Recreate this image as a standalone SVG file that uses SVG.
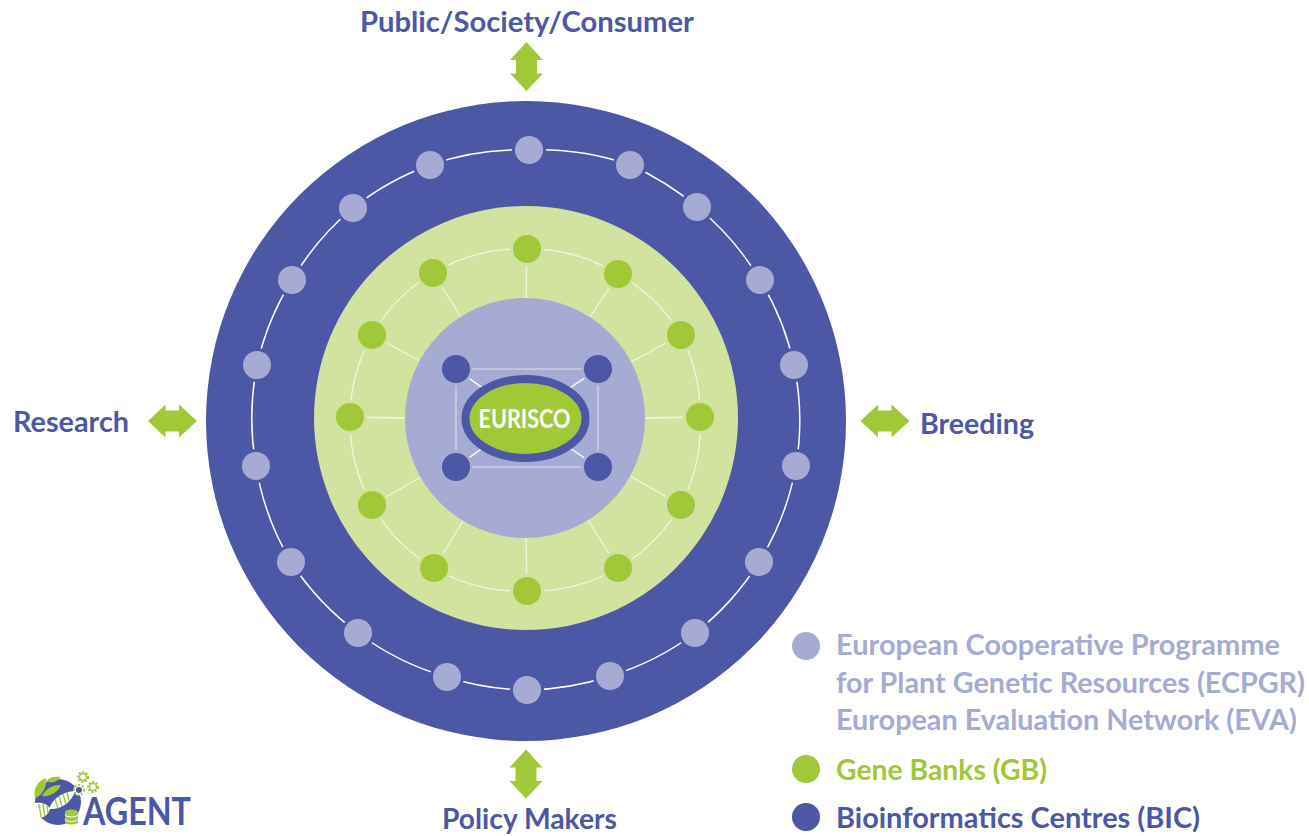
<svg xmlns="http://www.w3.org/2000/svg" width="1309" height="836" viewBox="0 0 1309 836">
<style>
text{font-family:"Lato","Liberation Sans",sans-serif;font-weight:700}
.t{font-size:29px;fill:#4c57a5}
.l{font-size:28px;fill:#a5abd2}
.g{fill:#a1c837}
.w{fill:none;stroke:#fff;stroke-width:1.500}
.s{fill:none;stroke:#f1f6e0;stroke-width:1.300}
.p{fill:none;stroke:#ccd0e6;stroke-width:1.500}
.o{fill:#a5abd2;stroke:#4c57a5;stroke-width:6;paint-order:stroke}
.n{fill:#a1c837;stroke:#d2e39f;stroke-width:6;paint-order:stroke}
.b{fill:#4c57a5;stroke:#a5abd2;stroke-width:5;paint-order:stroke}
.r{fill:none;stroke:#a1c837;stroke-width:1.500}
.c{fill:none;stroke:#a1c837;stroke-width:2;stroke-dasharray:2 1.700}
</style>
<defs>
<polygon id="arrow" points="0,-24.500 16.500,-6.500 10.500,-6.500 10.500,7 16.500,7 0,24.500 -16.500,7 -10.500,7 -10.500,-6.500 -16.500,-6.500"/>
</defs>
<g id="rings">
<circle cx="526" cy="421" r="320" fill="#4c57a5"/>
<circle cx="526" cy="418" r="212" fill="#d2e39f"/>
</g>
<g id="connectors">
<path class="w" d="M529 150A273 273 0 0 1 630 165A273 273 0 0 1 697 207A273 273 0 0 1 760 280A273 273 0 0 1 794 365A273 273 0 0 1 796 466A273 273 0 0 1 759 562A273 273 0 0 1 695 633A273 273 0 0 1 610 676A273 273 0 0 1 527 690A273 273 0 0 1 447 677A273 273 0 0 1 358 633A273 273 0 0 1 291 562A273 273 0 0 1 256 466A273 273 0 0 1 257 365A273 273 0 0 1 292 280A273 273 0 0 1 353 208A273 273 0 0 1 430 165A273 273 0 0 1 529 150Z"/>
<path class="s" d="M527 249A171 171 0 0 1 618 274A171 171 0 0 1 681 335A171 171 0 0 1 700 417A171 171 0 0 1 681 505A171 171 0 0 1 618 568A171 171 0 0 1 527 591A171 171 0 0 1 434 568A171 171 0 0 1 372 505A171 171 0 0 1 350 417A171 171 0 0 1 372 335A171 171 0 0 1 433 273A171 171 0 0 1 527 249Z"/>
<path class="s" d="M527 249L526 298M618 274L590 317M681 335L631 362M700 417L645 418M681 505L630 476M618 568L588 520M527 591L526 538M434 568L463 521M372 505L421 477M350 417L405 418M372 335L420 361M433 273L461 317"/>
</g>
<g id="core"><circle cx="525" cy="418" r="120" fill="#a5abd2"/></g>
<g id="core-connectors">
<path class="p" d="M456 369H598V467H456Z"/>
<path class="w" d="M456 369L525 418M598 369L525 418M456 467L525 418M598 467L525 418"/>
</g>
<g id="ecpgr-nodes">
<circle class="o" cx="529" cy="150" r="14"/><circle class="o" cx="630" cy="165" r="14"/><circle class="o" cx="697" cy="207" r="14"/><circle class="o" cx="760" cy="280" r="14"/><circle class="o" cx="794" cy="365" r="14"/><circle class="o" cx="796" cy="466" r="14"/><circle class="o" cx="759" cy="562" r="14"/><circle class="o" cx="695" cy="633" r="14"/><circle class="o" cx="610" cy="676" r="14"/><circle class="o" cx="527" cy="690" r="14"/><circle class="o" cx="447" cy="677" r="14"/><circle class="o" cx="358" cy="633" r="14"/><circle class="o" cx="291" cy="562" r="14"/><circle class="o" cx="256" cy="466" r="14"/><circle class="o" cx="257" cy="365" r="14"/><circle class="o" cx="292" cy="280" r="14"/><circle class="o" cx="353" cy="208" r="14"/><circle class="o" cx="430" cy="165" r="14"/>
</g>
<g id="gene-bank-nodes">
<circle class="n" cx="527" cy="249" r="14"/><circle class="n" cx="618" cy="274" r="14"/><circle class="n" cx="681" cy="335" r="14"/><circle class="n" cx="700" cy="417" r="14"/><circle class="n" cx="681" cy="505" r="14"/><circle class="n" cx="618" cy="568" r="14"/><circle class="n" cx="527" cy="591" r="14"/><circle class="n" cx="434" cy="568" r="14"/><circle class="n" cx="372" cy="505" r="14"/><circle class="n" cx="350" cy="417" r="14"/><circle class="n" cx="372" cy="335" r="14"/><circle class="n" cx="433" cy="273" r="14"/>
</g>
<g id="bic-nodes">
<circle class="b" cx="456" cy="369" r="14"/><circle class="b" cx="598" cy="369" r="14"/><circle class="b" cx="456" cy="467" r="14"/><circle class="b" cx="598" cy="467" r="14"/>
</g>
<g id="eurisco">
<ellipse cx="525.500" cy="418.500" rx="60" ry="39.500" fill="#a1c837" stroke="#4c57a5" stroke-width="8"/>
<text x="478.500" y="428" font-size="26" fill="#fff" textLength="92" lengthAdjust="spacingAndGlyphs">EURISCO</text>
</g>
<g id="arrows" class="g">
<use href="#arrow" x="526.500" y="66.500"/>
<use href="#arrow" x="526" y="774"/>
<use href="#arrow" transform="translate(172.500 421) rotate(90)"/>
<use href="#arrow" transform="translate(885 421) rotate(90)"/>
</g>
<g id="labels">
<text class="t" x="360" y="32" textLength="334" lengthAdjust="spacingAndGlyphs">Public/Society/Consumer</text>
<text class="t" x="13" y="432" textLength="116" lengthAdjust="spacingAndGlyphs">Research</text>
<text class="t" x="920" y="434" textLength="114" lengthAdjust="spacingAndGlyphs">Breeding</text>
<text class="t" x="442" y="829" textLength="175" lengthAdjust="spacingAndGlyphs">Policy Makers</text>
</g>
<g id="legend">
<circle cx="806" cy="646" r="14" fill="#a5abd2"/>
<circle cx="806" cy="769" r="14" fill="#a1c837"/>
<circle cx="806" cy="817" r="14" fill="#4c57a5"/>
<text class="l" x="836" y="655" textLength="444" lengthAdjust="spacingAndGlyphs">European Cooperative Programme</text>
<text class="l" x="836" y="693" textLength="469" lengthAdjust="spacingAndGlyphs">for Plant Genetic Resources (ECPGR)</text>
<text class="l" x="836" y="730" textLength="461" lengthAdjust="spacingAndGlyphs">European Evaluation Network (EVA)</text>
<text class="l" x="836" y="780" textLength="211" lengthAdjust="spacingAndGlyphs" style="fill:#a1c837">Gene Banks (GB)</text>
<text class="l" x="836" y="828" textLength="364" lengthAdjust="spacingAndGlyphs" style="fill:#4c57a5">Bioinformatics Centres (BIC)</text>
</g>
<g id="logo">
<circle cx="58" cy="802" r="23" fill="#4c57a5"/>
<path d="M35 798C33 788 38 781 46 778C47 787 43 795 35 798ZM46 781C49 777 55 776 61 777C57 782 51 784 46 781ZM42 796C46 788 53 785 61 785C58 792 50 797 42 796Z" fill="#a1c837"/>
<path d="M35 803C42 802 48 804 50 809C47 817 41 819 37 817C35 813 35 808 35 803Z" fill="#fff"/>
<path d="M49 809C53 798 62 792 75 791C72 802 61 810 49 809Z" fill="#fff"/>
<path class="r" d="M39 804L41 817M43 804L45 816M47 806L48 813M55 799L58 808M59 796L62 806M63 794L66 804M67 792L69 801"/>
<path d="M65 812a6.500 2.500 0 0 1 13 0v3a6.500 2.500 0 0 1 0 0v7a6.500 2.500 0 0 1 -13 0Z" fill="#a1c837"/>
<path d="M65 814.500a6.500 2.500 0 0 0 13 0M65 819a6.500 2.500 0 0 0 13 0" fill="none" stroke="#fff" stroke-width="1"/>
<circle cx="83" cy="777" r="3.500" class="r"/><circle cx="83" cy="777" r="5" class="c"/>
<circle cx="93" cy="787" r="3.500" class="r"/><circle cx="93" cy="787" r="5" class="c"/>
<circle cx="79" cy="790" r="5.500" fill="#fff"/><circle cx="79" cy="790" r="3" fill="#4c57a5"/><circle cx="79" cy="790" r="5" class="c"/>
<text x="83" y="825" font-size="39" fill="#4c57a5" textLength="108" lengthAdjust="spacingAndGlyphs">AGENT</text>
</g>
</svg>
